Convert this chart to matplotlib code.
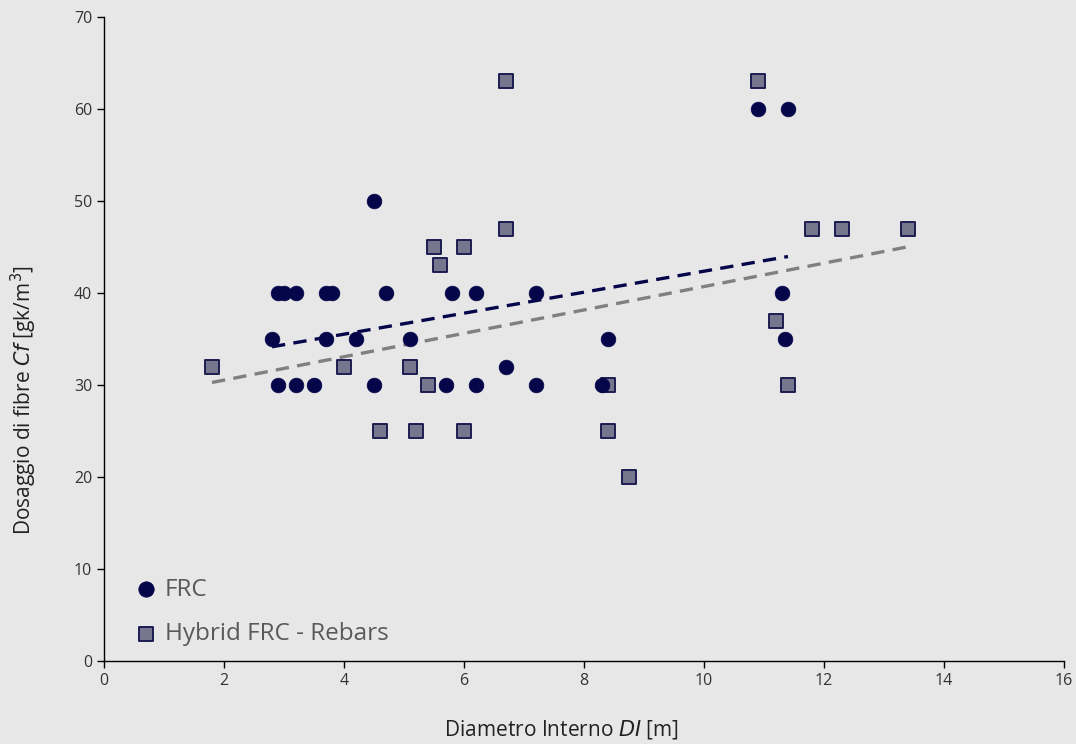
import numpy as np
import matplotlib.pyplot as plt

# FRC points (diametro interno, dosaggio)
frc_x=[4.5,2.9,3.0,3.2,3.7,3.8,4.7,5.8,6.2,7.2,11.3,
       2.8,3.7,4.2,5.1,8.4,11.35,
       2.9,3.2,3.5,4.5,5.7,6.2,7.2,8.3,
       6.7,10.9,11.4]
frc_y=[50,40,40,40,40,40,40,40,40,40,40,
       35,35,35,35,35,35,
       30,30,30,30,30,30,30,30,
       32,60,60]

# Hybrid FRC - Rebars
hyb_x=[1.8,4.0,5.1,5.4,8.4,11.4,4.6,5.2,6.0,8.4,8.75,5.5,6.0,5.6,6.7,6.7,10.9,11.8,12.3,13.4,11.2]
hyb_y=[32,32,32,30,30,30,25,25,25,25,20,45,45,43,47,63,63,47,47,47,37]

bg='#e7e7e7'
navy='#05054a'
sq_fill='#76768e'

plt.rcParams['font.family']=['Open Sans','DejaVu Sans']
fig=plt.figure(figsize=(10.76,7.44),dpi=100,facecolor=bg)
ax=fig.add_axes([0.0967,0.1116,0.8921,0.8656],facecolor=bg)

def trend(x,y):
	x=np.asarray(x); y=np.asarray(y)
	k,b=np.polyfit(x,y,1)
	xx=np.array([x.min(),x.max()])
	return xx,k*xx+b

tx,ty=trend(hyb_x,hyb_y)
ax.plot(tx,ty,color='#808080',lw=2.4,dashes=(4,2.5),zorder=2)
tx,ty=trend(frc_x,frc_y)
ax.plot(tx,ty,color=navy,lw=2.4,dashes=(4,2.5),zorder=2)

ax.scatter(frc_x,frc_y,s=112,marker='o',color=navy,edgecolors=navy,linewidths=0.5,zorder=4,label='FRC')
ax.scatter(hyb_x,hyb_y,s=95,marker='s',color=sq_fill,edgecolors='#1c1c50',linewidths=1.4,zorder=3,label='Hybrid FRC - Rebars')

ax.set_xlim(0,16)
ax.set_ylim(0,70)
ax.set_xticks(range(0,17,2))
ax.set_yticks(range(0,71,10))
for s in ['top','right']:
	ax.spines[s].set_visible(False)
for s in ['left','bottom']:
	ax.spines[s].set_color('black')
	ax.spines[s].set_linewidth(1.0)
ax.tick_params(axis='both',labelsize=11.5,colors='#333333',length=5,width=1,direction='out')
ax.tick_params(axis='both',color='black')

ax.set_xlabel('Diametro Interno $\\mathit{DI}$ [m]',fontsize=15,color='#222222')
ax.set_ylabel('Dosaggio di fibre $\\mathit{Cf}$ [gk/m$^3$]',fontsize=15,color='#222222')
ax.xaxis.set_label_coords(0.477,-0.089)
ax.yaxis.set_label_coords(-0.068,0.405)

leg=ax.legend(loc='lower left',bbox_to_anchor=(0.01,0.0),frameon=False,fontsize=17.5,
	handletextpad=0.0,labelspacing=0.85,borderaxespad=0.2,handlelength=1.5,markerscale=1.05)
for t in leg.get_texts():
	t.set_color('#595959')

fig.savefig('out.png',dpi=100,facecolor=bg)
